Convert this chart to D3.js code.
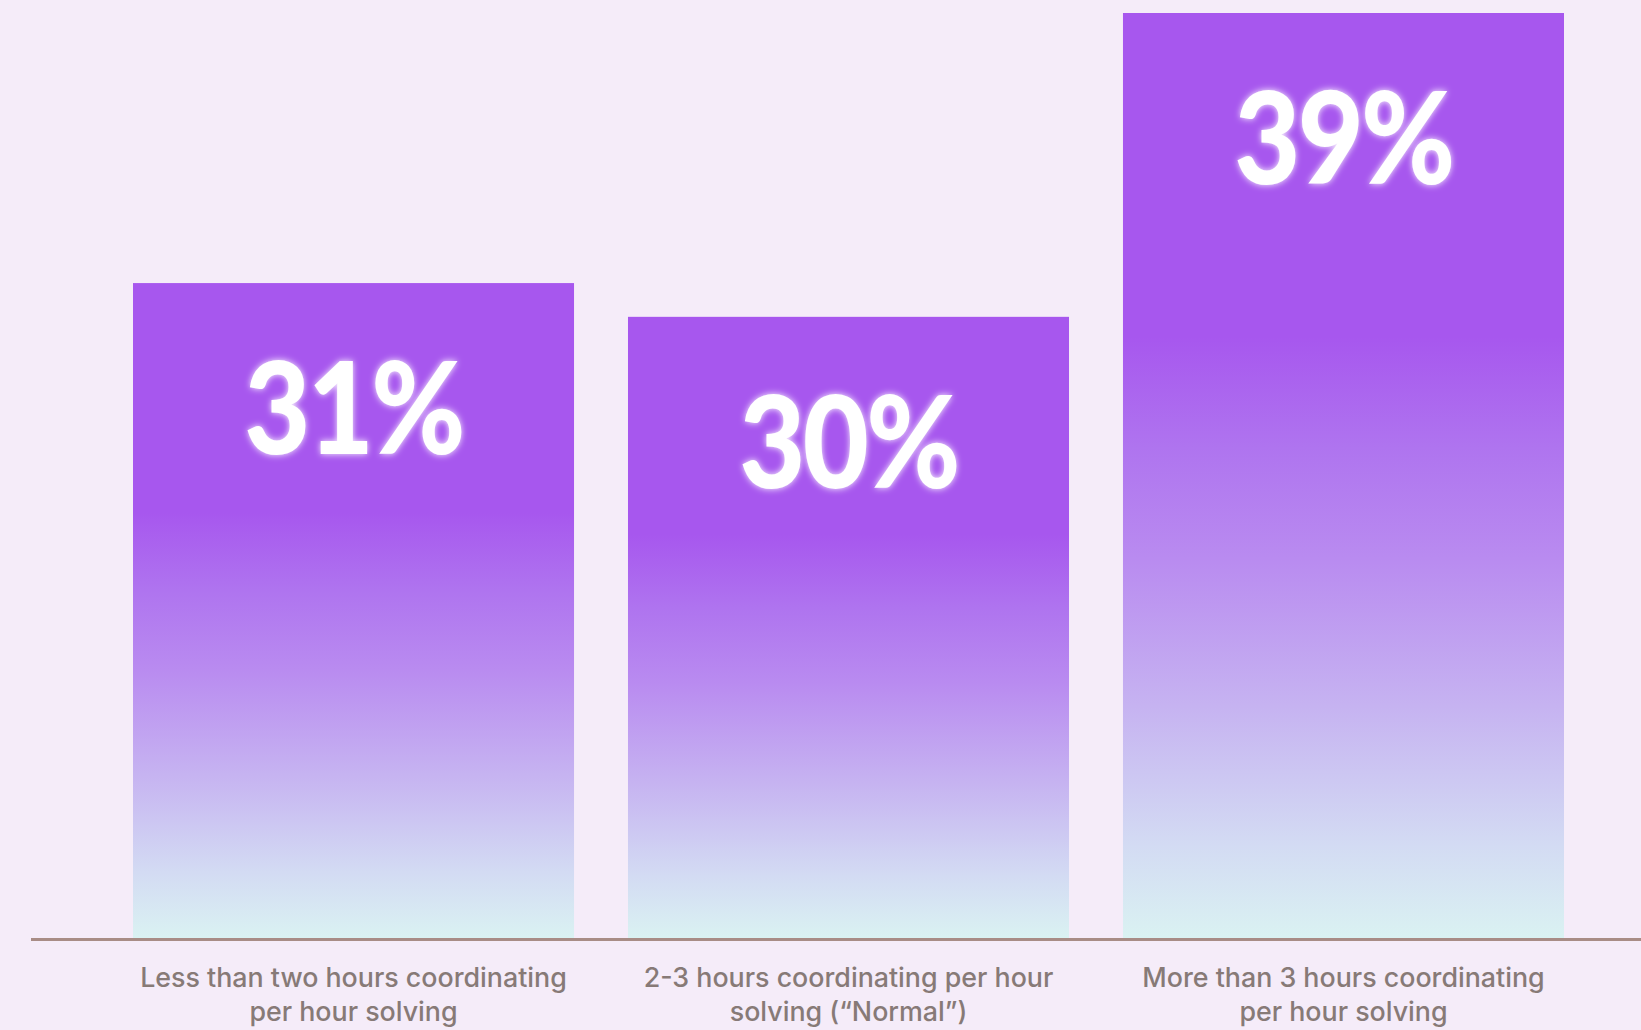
<!DOCTYPE html>
<html>
<head>
<meta charset="utf-8">
<script src="https://cdn.jsdelivr.net/npm/d3@7"></script>
<style>
  html, body { margin: 0; padding: 0; background: #f5ecf9; }
  svg { display: block; }
</style>
</head>
<body>
<svg id="chart" width="1641" height="1030"></svg>
<script>
// Share of respondents by coordination-to-solving ratio
const categories = [
  "Less than two hours coordinating per hour solving",
  "2-3 hours coordinating per hour solving (“Normal”)",
  "More than 3 hours coordinating per hour solving"
];
const categoryLines = [
  ["Less than two hours coordinating", "per hour solving"],
  ["2-3 hours coordinating per hour", "solving (“Normal”)"],
  ["More than 3 hours coordinating", "per hour solving"]
];
const values = [31, 30, 39];
const valueLabels = ["31%", "30%", "39%"];

const W = 1641, H = 1030;
const baseY = 938;

const svg = d3.select("#chart");

svg.append("rect").attr("width", W).attr("height", H).attr("fill", "#f5ecf9");

const defs = svg.append("defs");

// vertical fade: solid violet on top, fading to pale aqua at the base
const grad = defs.append("linearGradient")
  .attr("id", "barFade")
  .attr("x1", 0).attr("y1", 0).attr("x2", 0).attr("y2", 1);
[
  [0, "#a757ee"],
  [0.35, "#a757ee"],
  [0.47, "#af74ef"],
  [0.59, "#b98bf0"],
  [0.75, "#c6b3f1"],
  [0.90, "#d3dbf3"],
  [1, "#daf2f2"]
].forEach(([o, c]) => grad.append("stop").attr("offset", o).attr("stop-color", c));

// soft white glow around the value labels
const glow = defs.append("filter")
  .attr("id", "glow")
  .attr("x", "-20%").attr("y", "-30%").attr("width", "140%").attr("height", "160%");
glow.append("feGaussianBlur").attr("in", "SourceAlpha").attr("stdDeviation", 3.5).attr("result", "blur");
glow.append("feFlood").attr("flood-color", "#ffffff").attr("flood-opacity", 0.95).attr("result", "white");
glow.append("feComposite").attr("in", "white").attr("in2", "blur").attr("operator", "in").attr("result", "halo");
const merge = glow.append("feMerge");
merge.append("feMergeNode").attr("in", "halo");
merge.append("feMergeNode").attr("in", "SourceGraphic");

const x = d3.scaleBand()
  .domain(d3.range(categories.length))
  .range([133, 1564])
  .paddingInner(0.109)
  .paddingOuter(0);

const y = d3.scaleLinear()
  .domain([11.6, 39])
  .range([baseY, 13]);

// baseline
svg.append("line")
  .attr("x1", 31).attr("x2", W)
  .attr("y1", baseY + 1.5).attr("y2", baseY + 1.5)
  .attr("stroke", "#a88c86")
  .attr("stroke-width", 3);

// bars
svg.append("g")
  .selectAll("rect")
  .data(values)
  .join("rect")
  .attr("x", (d, i) => x(i))
  .attr("y", d => y(d))
  .attr("width", x.bandwidth())
  .attr("height", d => baseY - y(d))
  .attr("fill", "url(#barFade)");

// value labels
svg.append("g")
  .selectAll("text")
  .data(values)
  .join("text")
  .attr("transform", (d, i) => `translate(${x(i) + x.bandwidth() / 2},${y(d) + 171}) scale(0.89,1)`)
  .attr("text-anchor", "middle")
  .attr("font-family", "Lato, sans-serif")
  .attr("font-weight", 900)
  .attr("font-size", 128)
  .attr("letter-spacing", -3)
  .attr("fill", "#ffffff")
  .attr("filter", "url(#glow)")
  .text((d, i) => valueLabels[i]);

// category labels
const cat = svg.append("g")
  .selectAll("text")
  .data(categoryLines)
  .join("text")
  .attr("x", (d, i) => x(i) + x.bandwidth() / 2)
  .attr("y", 987)
  .attr("text-anchor", "middle")
  .attr("font-family", "Inter, 'Noto Sans', sans-serif")
  .attr("font-weight", 500)
  .attr("font-size", 26.8)
  .attr("fill", "#877a77");
cat.selectAll("tspan")
  .data(d => d)
  .join("tspan")
  .attr("x", function () { return d3.select(this.parentNode).attr("x"); })
  .attr("dy", (d, j) => j === 0 ? 0 : 34)
  .text(d => d);
</script>
</body>
</html>
